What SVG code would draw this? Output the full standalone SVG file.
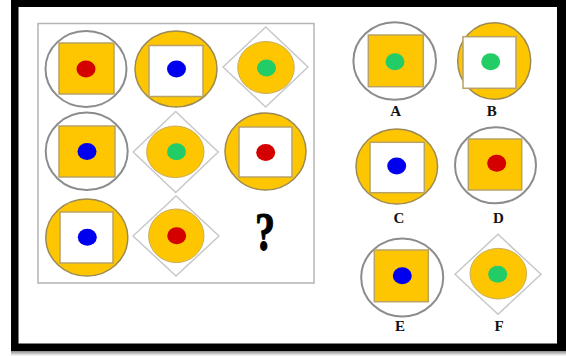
<svg xmlns="http://www.w3.org/2000/svg" width="566" height="356" viewBox="0 0 566 356">
<defs>
<linearGradient id="sh" x1="0" y1="0" x2="0" y2="1">
<stop offset="0" stop-color="#8a8a8a"/>
<stop offset="1" stop-color="#ffffff"/>
</linearGradient>
</defs>
<style>
.yc{fill:#FEC600;stroke:#9c8a55;stroke-width:1.5}
.gc{fill:#ffffff;stroke:#8c8c8c;stroke-width:2}
.ys{fill:#FEC600;stroke:#b9a266;stroke-width:1.5}
.ws{fill:#ffffff;stroke:#b9a266;stroke-width:1.5}
.dm{fill:#ffffff;stroke:#c8c8c8;stroke-width:1.5}
.yi{fill:#FEC600;stroke:#c9ad5a;stroke-width:1}
.r{fill:#d40000}
.b{fill:#0000ee}
.g{fill:#22cc66}
.lb{font-family:"Liberation Serif",serif;font-weight:bold;font-size:15px;fill:#111;text-anchor:middle}
</style>
<rect x="0" y="0" width="566" height="356" fill="#ffffff"/>
<rect x="11" y="351" width="555" height="5" fill="url(#sh)"/>
<rect x="11" y="0" width="555" height="351" fill="#000000"/>
<rect x="18.5" y="7" width="538.5" height="336.5" fill="#ffffff"/>
<rect x="38" y="23.5" width="276" height="259.5" fill="#ffffff" stroke="#b4b4b4" stroke-width="1.5"/>

<g id="r1c1">
<ellipse class="gc" cx="86" cy="69" rx="40.5" ry="38"/>
<rect class="ys" x="59" y="43" width="55" height="51"/>
<ellipse class="r" cx="86" cy="69" rx="9.5" ry="8.5"/>
</g>
<g id="r1c2">
<ellipse class="yc" cx="176" cy="69" rx="41" ry="38"/>
<rect class="ws" x="149" y="45.5" width="54" height="51"/>
<ellipse class="b" cx="176.5" cy="69" rx="9.5" ry="8.5"/>
</g>
<g id="r1c3">
<polygon class="dm" points="223,67 265.7,27 308,67 265.7,107"/>
<ellipse class="yi" cx="266" cy="67.5" rx="28.3" ry="26"/>
<ellipse class="g" cx="266.5" cy="68" rx="9.5" ry="8.5"/>
</g>
<g id="r2c1">
<ellipse class="gc" cx="86.7" cy="151.3" rx="41" ry="38.7"/>
<rect class="ys" x="59" y="126" width="56" height="51"/>
<ellipse class="b" cx="87" cy="151.5" rx="9.5" ry="8.5"/>
</g>
<g id="r2c2">
<polygon class="dm" points="133.2,152 175.7,111.5 218.2,152 175.7,192.5"/>
<ellipse class="yi" cx="175.3" cy="151.8" rx="28.7" ry="25.8"/>
<ellipse class="g" cx="176.5" cy="151.7" rx="9.5" ry="8.5"/>
</g>
<g id="r2c3">
<ellipse class="yc" cx="265.5" cy="151.5" rx="40.5" ry="38.5"/>
<rect class="ws" x="239" y="127" width="53" height="50"/>
<ellipse class="r" cx="265.7" cy="152.5" rx="9.5" ry="8.5"/>
</g>
<g id="r3c1">
<ellipse class="yc" cx="86.8" cy="237.5" rx="41" ry="38.5"/>
<rect class="ws" x="60" y="212" width="53" height="51"/>
<ellipse class="b" cx="87.3" cy="237.3" rx="9.5" ry="8.5"/>
</g>
<g id="r3c2">
<polygon class="dm" points="133,236 176,196 219,236 176,276"/>
<ellipse class="yi" cx="176.3" cy="235.8" rx="27.7" ry="26.8"/>
<ellipse class="r" cx="176.7" cy="235.7" rx="9.5" ry="8.5"/>
</g>
<g id="r3c3">
<text x="0" y="0" transform="translate(265,250) scale(1,1.35)" font-family="Liberation Serif, serif" font-weight="bold" font-size="40" text-anchor="middle" fill="#000" stroke="#000" stroke-width="0.8">?</text>
</g>

<g id="optA">
<ellipse class="gc" cx="394.7" cy="61" rx="41.3" ry="38.8"/>
<rect class="ys" x="368.3" y="35" width="55" height="51.7"/>
<ellipse class="g" cx="395" cy="61.7" rx="9.5" ry="8.5"/>
<text class="lb" x="395.7" y="115.7">A</text>
</g>
<g id="optB">
<ellipse class="yc" cx="494.2" cy="61" rx="36.5" ry="38.3"/>
<rect class="ws" x="463" y="36.7" width="53" height="51.6"/>
<ellipse class="g" cx="490.7" cy="61.7" rx="9.5" ry="8.5"/>
<text class="lb" x="491.7" y="115.7">B</text>
</g>
<g id="optC">
<ellipse class="yc" cx="396.8" cy="166.5" rx="40.8" ry="37.5"/>
<rect class="ws" x="370" y="142.3" width="54.3" height="50.4"/>
<ellipse class="b" cx="396.7" cy="166" rx="9.5" ry="8.5"/>
<text class="lb" x="399" y="223">C</text>
</g>
<g id="optD">
<ellipse class="gc" cx="495.5" cy="165.3" rx="40.5" ry="38"/>
<rect class="ys" x="468.3" y="139" width="53.4" height="51"/>
<ellipse class="r" cx="496.7" cy="163.3" rx="9.5" ry="8.5"/>
<text class="lb" x="498.3" y="223">D</text>
</g>
<g id="optE">
<ellipse class="gc" cx="402.2" cy="277.5" rx="41" ry="39"/>
<rect class="ys" x="374.3" y="250" width="54" height="51.7"/>
<ellipse class="b" cx="402.3" cy="275.7" rx="9.5" ry="8.5"/>
<text class="lb" x="400" y="330.5">E</text>
</g>
<g id="optF">
<polygon class="dm" points="455,274.3 498,234.3 541,274.3 498,314.3"/>
<ellipse class="yi" cx="498.3" cy="273.7" rx="28.3" ry="25.3"/>
<ellipse class="g" cx="497.7" cy="274.3" rx="9.5" ry="8.5"/>
<text class="lb" x="499" y="330.5">F</text>
</g>
<g id="connectors"/>
</svg>
